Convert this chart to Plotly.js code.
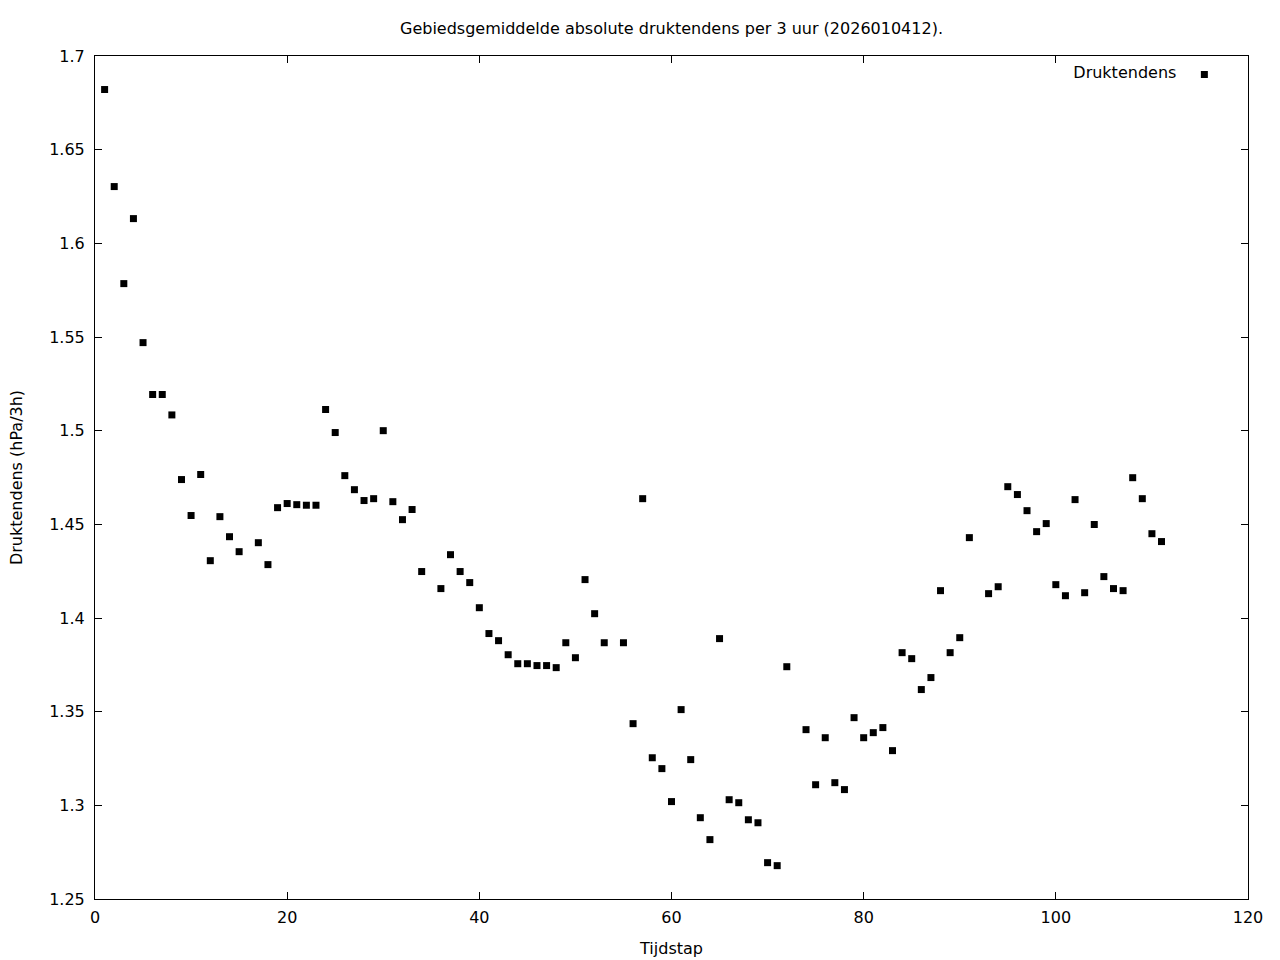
<!DOCTYPE html>
<html>
<head>
<meta charset="utf-8">
<script src="https://cdn.plot.ly/plotly-3.0.1.min.js"></script>
<style>html,body{margin:0;padding:0;background:#fff;}#chart{width:1280px;height:960px;}</style>
</head>
<body>
<div id="chart"></div>
<script>
const tijdstap = [1,2,3,4,5,6,7,8,9,10,11,12,13,14,15,17,18,19,20,21,22,23,24,25,26,27,28,29,30,31,32,33,34,36,37,38,39,40,41,42,43,44,45,46,47,48,49,50,51,52,53,55,56,57,58,59,60,61,62,63,64,65,66,67,68,69,70,71,72,74,75,76,77,78,79,80,81,82,83,84,85,86,87,88,89,90,91,93,94,95,96,97,98,99,100,101,102,103,104,105,106,107,108,109,110,111];
const druktendens = [1.6821,1.6303,1.5785,1.6132,1.5470,1.5193,1.5193,1.5084,1.4739,1.4547,1.4766,1.4306,1.4541,1.4434,1.4354,1.4402,1.4285,1.4589,1.4611,1.4605,1.4602,1.4602,1.5113,1.4990,1.4760,1.4685,1.4627,1.4637,1.5000,1.4621,1.4525,1.4579,1.4248,1.4157,1.4338,1.4248,1.4189,1.4055,1.3917,1.3879,1.3804,1.3756,1.3756,1.3746,1.3746,1.3735,1.3868,1.3788,1.4205,1.4023,1.3868,1.3868,1.3436,1.4637,1.3254,1.3196,1.3020,1.3511,1.3244,1.2934,1.2817,1.3890,1.3030,1.3014,1.2923,1.2907,1.2694,1.2678,1.3740,1.3404,1.3110,1.3361,1.3121,1.3084,1.3468,1.3361,1.3388,1.3415,1.3292,1.3815,1.3783,1.3618,1.3682,1.4146,1.3815,1.3895,1.4429,1.4130,1.4167,1.4701,1.4659,1.4573,1.4461,1.4504,1.4178,1.4119,1.4632,1.4135,1.4499,1.4221,1.4157,1.4146,1.4749,1.4637,1.4450,1.4408];
const xTickVals = [0,20,40,60,80,100,120];
const yTickVals = [1.25,1.3,1.35,1.4,1.45,1.5,1.55,1.6,1.65,1.7];
const yTickText = ['1.25','1.3','1.35','1.4','1.45','1.5','1.55','1.6','1.65','1.7'];

const font = {family: 'DejaVu Sans, sans-serif', size: 16, color: '#000'};

const trace = {
  x: tijdstap, y: druktendens,
  type: 'scatter', mode: 'markers',
  name: ' ',
  marker: {symbol: 'square', size: 7, color: '#000'},
  showlegend: true
};

const axisCommon = {
  showline: true, linecolor: '#000', linewidth: 1, mirror: 'ticks',
  ticks: 'inside', ticklen: 7, tickcolor: '#000', tickwidth: 1,
  showgrid: false, zeroline: false, tickfont: font
};

const layout = {
  width: 1280, height: 960,
  paper_bgcolor: '#fff', plot_bgcolor: '#fff',
  font: font,
  margin: {l: 95, r: 32, t: 56, b: 61},
  title: {text: 'Gebiedsgemiddelde absolute druktendens per 3 uur (2026010412).', font: font, xref: 'paper', x: 0.5, xanchor: 'center', y: 0.97, yanchor: 'middle'},
  xaxis: Object.assign({}, axisCommon, {
    range: [0, 120], tickmode: 'array', tickvals: xTickVals,
    ticklabelstandoff: 4,
    title: {text: 'Tijdstap', font: font, standoff: 16}
  }),
  yaxis: Object.assign({}, axisCommon, {
    range: [1.25, 1.7], tickmode: 'array', tickvals: yTickVals, ticktext: yTickText,
    ticklabelstandoff: 6,
    title: {text: 'Druktendens (hPa/3h)', font: font, standoff: 22}
  }),
  showlegend: true,
  legend: {
    x: 0.989, xanchor: 'right', y: 0.998, yanchor: 'top',
    bgcolor: 'rgba(0,0,0,0)', borderwidth: 0, font: font,
    title: {text: 'Druktendens', side: 'left', font: font},
    itemwidth: 30
  }
};

Plotly.newPlot('chart', [trace], layout, {displayModeBar: false, staticPlot: true});
</script>
</body>
</html>
